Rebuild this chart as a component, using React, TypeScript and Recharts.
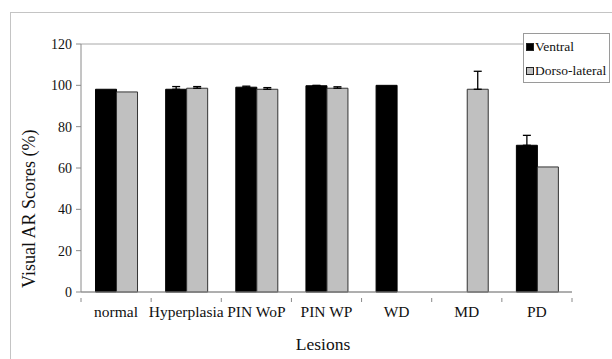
import React from "react";
import {
  BarChart,
  Bar,
  XAxis,
  YAxis,
  CartesianGrid,
  ErrorBar,
} from "recharts";

const lesions = ["normal", "Hyperplasia", "PIN WoP", "PIN WP", "WD", "MD", "PD"];
const ventral = [98.1, 98.1, 99.1, 99.8, 100, null, 71];
const dorsoLateral = [96.8, 98.6, 98.1, 98.6, null, 98.1, 60.5];
const ventralErr = [null, 1.3, 0.5, 0.2, null, null, 4.8];
const dorsoErr = [null, 0.8, 0.8, 0.7, null, 8.7, null];
const yTicks = [0, 20, 40, 60, 80, 100, 120];

const data = lesions.map((name, i) => ({
  name,
  Ventral: ventral[i],
  "Dorso-lateral": dorsoLateral[i],
  vErr: ventralErr[i] == null ? undefined : [0, ventralErr[i]],
  dErr: dorsoErr[i] == null ? undefined : [0, dorsoErr[i]],
}));

const FONT = "'Liberation Serif', 'Times New Roman', serif";
const AXIS = "#8a8a8a";

// category label in the middle, tick marks on the band edges (Excel style)
const LesionTick = (props: any) => {
  const { x, y, payload, index, width, visibleTicksCount } = props;
  const band = width / visibleTicksCount;
  return (
    <g>
      <line x1={x - band / 2} x2={x - band / 2} y1={y - 2} y2={y + 2} stroke={AXIS} />
      {index === visibleTicksCount - 1 && (
        <line x1={x + band / 2} x2={x + band / 2} y1={y - 2} y2={y + 2} stroke={AXIS} />
      )}
      <text x={x} y={y + 17} textAnchor="middle" fontSize={15.5} fill="#111" fontFamily={FONT}>
        {payload.value}
      </text>
    </g>
  );
};

const ScoreTick = (props: any) => {
  const { x, y, payload } = props;
  return (
    <text x={x} y={y + 5} textAnchor="end" fontSize={14} fill="#111" fontFamily={FONT}>
      {payload.value}
    </text>
  );
};

const LegendBox = () => (
  <div
    style={{
      position: "absolute",
      left: 523,
      top: 33,
      border: "1px solid #9a9a9a",
      background: "#fff",
      width: 87,
      height: 50,
      boxSizing: "border-box",
      fontFamily: FONT,
      fontSize: 13.5,
      color: "#111",
      paddingLeft: 2,
      paddingTop: 1,
    }}
  >
    {[
      ["Ventral", "#000"],
      ["Dorso-lateral", "#c0c0c0"],
    ].map(([label, color]) => (
      <div key={label} style={{ display: "flex", alignItems: "center", height: 24 }}>
        <span
          style={{
            display: "inline-block",
            width: 6,
            height: 6,
            background: color,
            border: "1px solid #222",
            marginRight: 1,
          }}
        />
        {label}
      </div>
    ))}
  </div>
);

export default function App() {
  return (
    <div style={{ position: "absolute", left: 0, top: 0, width: 612, height: 359, overflow: "hidden", background: "#fff" }}>
      <div
        style={{
          position: "absolute",
          left: 10,
          top: 12,
          width: 700,
          height: 400,
          borderTop: "1px solid #c4c4c4",
          borderLeft: "1px solid #c4c4c4",
        }}
      />
      <div style={{ position: "absolute", left: 0, top: 0 }}>
        <BarChart
          width={612}
          height={359}
          data={data}
          margin={{ top: 44, right: 40, bottom: 37, left: 0 }}
          barGap={0}
          barCategoryGap="20.7%"
        >
          <CartesianGrid vertical={false} stroke="#a8a8a8" strokeWidth={1} />
          <XAxis
            dataKey="name"
            height={30}
            axisLine={{ stroke: AXIS }}
            tickLine={false}
            tick={<LesionTick />}
            interval={0}
            label={{
              content: () => (
                <text x={323} y={350} textAnchor="middle" fontSize={17.5} fill="#111" fontFamily={FONT}>
                  Lesions
                </text>
              ),
            }}
          />
          <YAxis
            yAxisId="left"
            width={81}
            domain={[0, 120]}
            ticks={yTicks}
            interval={0}
            axisLine={{ stroke: AXIS }}
            tickLine={{ stroke: AXIS }}
            tickSize={5}
            tickMargin={4}
            tick={<ScoreTick />}
            label={{
              content: () => (
                <text
                  x={35}
                  y={288}
                  transform="rotate(-90 35 288)"
                  textAnchor="start"
                  fontSize={18}
                  fill="#111"
                  fontFamily={FONT}
                >
                  Visual AR Scores (%)
                </text>
              ),
            }}
          />
          <YAxis
            yAxisId="right"
            orientation="right"
            width={0}
            domain={[0, 120]}
            ticks={yTicks}
            tick={false}
            tickLine={false}
            axisLine={{ stroke: AXIS }}
          />
          <Bar yAxisId="left" dataKey="Ventral" fill="#000" stroke="#000" isAnimationActive={false}>
            <ErrorBar dataKey="vErr" width={4} stroke="#000" strokeWidth={1.3} direction="y" />
          </Bar>
          <Bar yAxisId="left" dataKey="Dorso-lateral" fill="#c0c0c0" stroke="#333" strokeWidth={1} isAnimationActive={false}>
            <ErrorBar dataKey="dErr" width={4} stroke="#000" strokeWidth={1.3} direction="y" />
          </Bar>
        </BarChart>
      </div>
      <LegendBox />
    </div>
  );
}
